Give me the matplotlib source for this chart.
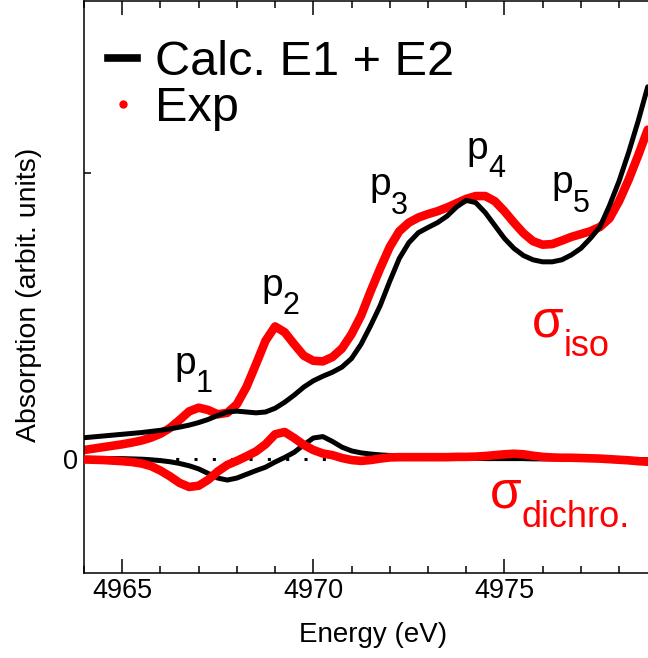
import matplotlib
matplotlib.use("Agg")
import matplotlib.pyplot as plt
from matplotlib.lines import Line2D
from matplotlib.ticker import MultipleLocator, FixedLocator
import numpy as np

plt.rcParams["font.family"] = ["Liberation Sans", "DejaVu Sans"]

# energy grid (eV), 0.25 eV steps
energy = np.arange(4964.0, 4978.76, 0.25)

# isotropic spectra
calc_iso = [0.073, 0.076, 0.079, 0.082, 0.085, 0.088, 0.091, 0.095, 0.099, 0.104,
            0.110, 0.117, 0.126, 0.137, 0.151, 0.163, 0.166, 0.163, 0.160, 0.163,
            0.176, 0.197, 0.222, 0.250, 0.272, 0.288, 0.302, 0.320, 0.350, 0.400,
            0.465, 0.535, 0.620, 0.700, 0.755, 0.790, 0.808, 0.825, 0.848, 0.880,
            0.903, 0.895, 0.860, 0.815, 0.770, 0.735, 0.710, 0.695, 0.688, 0.688,
            0.695, 0.712, 0.735, 0.770, 0.810, 0.885, 0.970, 1.070, 1.180, 1.300]
exp_iso = [0.030, 0.035, 0.040, 0.045, 0.050, 0.056, 0.063, 0.073, 0.087, 0.107,
           0.135, 0.165, 0.178, 0.170, 0.155, 0.160, 0.190, 0.250, 0.330, 0.412,
           0.462, 0.442, 0.400, 0.360, 0.342, 0.340, 0.355, 0.385, 0.435, 0.500,
           0.585, 0.665, 0.740, 0.795, 0.825, 0.843, 0.855, 0.865, 0.878, 0.893,
           0.908, 0.918, 0.918, 0.900, 0.865, 0.825, 0.788, 0.760, 0.748, 0.750,
           0.762, 0.775, 0.785, 0.795, 0.810, 0.840, 0.900, 0.975, 1.060, 1.150]

# dichroic spectra
calc_dichro = [0.000, 0.000, 0.000, 0.000, 0.000, -0.001, -0.002, -0.004, -0.007, -0.011,
               -0.017, -0.025, -0.036, -0.052, -0.068, -0.075, -0.068, -0.055, -0.042, -0.030,
               -0.012, 0.004, 0.022, 0.048, 0.072, 0.077, 0.060, 0.040, 0.027, 0.020,
               0.016, 0.013, 0.011, 0.009, 0.008, 0.007, 0.006, 0.005, 0.004, 0.003,
               0.002, 0.001, 0.000, 0.000, 0.000, 0.000, 0.000, -0.001, -0.001, -0.001,
               -0.001, -0.002, -0.002, -0.002, -0.002, -0.003, -0.003, -0.003, -0.003, -0.004]
exp_dichro = [-0.003, -0.004, -0.005, -0.007, -0.009, -0.012, -0.017, -0.026, -0.042, -0.062,
              -0.085, -0.099, -0.095, -0.074, -0.045, -0.022, -0.008, 0.008, 0.025, 0.050,
              0.085, 0.093, 0.072, 0.048, 0.030, 0.018, 0.012, 0.002, -0.005, -0.008,
              -0.005, 0.000, 0.004, 0.005, 0.005, 0.005, 0.005, 0.005, 0.005, 0.006,
              0.006, 0.007, 0.009, 0.012, 0.015, 0.017, 0.015, 0.010, 0.006, 0.004,
              0.003, 0.003, 0.002, 0.001, 0.000, -0.002, -0.004, -0.006, -0.009, -0.011]

# peak labels: name, energy, height
peaks = [("1", 4966.36, 0.297),
         ("2", 4968.64, 0.570),
         ("3", 4971.47, 0.920),
         ("4", 4974.00, 1.049),
         ("5", 4976.23, 0.927)]

fig = plt.figure(figsize=(6.48, 6.58), dpi=100)
ax = fig.add_axes([84 / 648, 85 / 658, 579 / 648, 572 / 658])

line_kw = dict(solid_joinstyle="round", solid_capstyle="round")
ax.axhline(0, color="black", lw=2.2, dashes=(1, 5), zorder=1)
ax.plot(energy, exp_iso, color="#ff0000", lw=6.2, zorder=2, **line_kw)
ax.plot(energy, calc_iso, color="black", lw=3.6, zorder=3, **line_kw)
ax.plot(energy, calc_dichro, color="black", lw=3.6, zorder=4, **line_kw)
ax.plot(energy, exp_dichro, color="#ff0000", lw=6.2, zorder=5, **line_kw)

ax.set_xlim(4964.0, 4979.15)
ax.set_ylim(-0.4, 1.6)

ax.xaxis.set_major_locator(MultipleLocator(5))
ax.xaxis.set_minor_locator(MultipleLocator(1))
ax.yaxis.set_major_locator(FixedLocator([0, 1]))
ax.set_yticklabels(["0", ""])
ax.tick_params(axis="x", which="both", direction="in", top=True, bottom=True,
               labelsize=19.5, pad=3.5, width=1.1)
ax.tick_params(axis="x", which="major", length=10)
ax.tick_params(axis="x", which="minor", length=5)
ax.tick_params(axis="y", which="major", direction="in", length=5, width=1.1,
               labelsize=19.5, pad=4.3)
for side in ["left", "bottom", "top"]:
    ax.spines[side].set_linewidth(1.1)
ax.spines["right"].set_visible(False)

ax.set_xlabel("Energy (eV)", fontsize=20)
ax.xaxis.set_label_coords(0.5, -0.086)
ax.set_ylabel("Absorption (arbit. units)", fontsize=20.5)
ax.yaxis.set_label_coords(-0.0725, 0.486)


def sub_label(x, y, base, sub, color, size, subsize, dx, dy):
    ax.text(x, y, base, color=color, fontsize=size, ha="left", va="baseline")
    ax.annotate(sub, xy=(x, y), xytext=(dx, dy), textcoords="offset points",
                color=color, fontsize=subsize, ha="left", va="baseline")


for name, xp, yp in peaks:
    sub_label(xp, yp, "p", name, "black", 28, 22, 0.556 * 28, -13.5)

sub_label(4975.73, 0.427, "σ", "iso", "#ff0000", 37, 26, 0.6 * 37, -14.4)
sub_label(4974.63, -0.171, "σ", "dichro.", "#ff0000", 37, 26, 0.6 * 37, -13.7)

handles = [Line2D([], [], color="black", lw=5.5),
           Line2D([], [], color="#ff0000", marker="o", ms=5, ls="none")]
ax.legend(handles, ["Calc. E1 + E2", "Exp"], loc="upper left",
          bbox_to_anchor=(108 / 648, 1 - 40 / 658), bbox_transform=fig.transFigure,
          frameon=False, fontsize=35, handlelength=0.6, handletextpad=0.37,
          labelspacing=0.03, borderpad=0, borderaxespad=0)

fig.savefig("out.png", dpi=100)
